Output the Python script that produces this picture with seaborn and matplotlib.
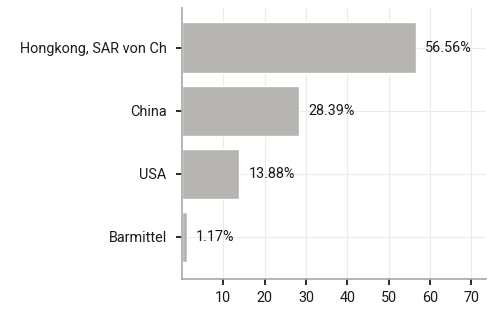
import matplotlib

matplotlib.use("Agg")
import matplotlib.pyplot as plt
import pandas as pd
import seaborn as sns

countries = ["Hongkong, SAR von Ch", "China", "USA", "Barmittel"]
shares = [56.56, 28.39, 13.88, 1.17]
x_ticks = [10, 20, 30, 40, 50, 60, 70]

BAR, INK, GRID, SPINE = "#b5b4b0", "#1a1a1a", "#ebebeb", "#a8a8a8"

sns.set_theme(style="whitegrid")
plt.rcParams.update({
    "font.family": ["Roboto", "DejaVu Sans"],
    "font.size": 10,
    "text.color": INK,
    "xtick.color": INK,
    "ytick.color": INK,
    "grid.color": GRID,
    "grid.linewidth": 0.8,
})

df = pd.DataFrame({"country": countries, "share": shares})

fig = plt.figure(figsize=(4.94, 3.11), dpi=100)
ax = fig.add_axes([182 / 494, 32 / 311, 304 / 494, 271 / 311])
sns.barplot(data=df, x="share", y="country", color=BAR, width=0.8,
            saturation=1, ax=ax)

for i, v in enumerate(shares):
    ax.text(v + 2.2, i, f"{v:.2f}%", va="center", ha="left", fontsize=10.4)

ax.set_xlim(0, 73.6)
ax.set_ylim(3.67, -0.63)
ax.set_xticks(x_ticks)
ax.set_xlabel("")
ax.set_ylabel("")
ax.grid(True, axis="both")
for side in ("top", "right"):
    ax.spines[side].set_visible(False)
for side in ("left", "bottom"):
    ax.spines[side].set_color(SPINE)
    ax.spines[side].set_linewidth(1.2)
ax.tick_params(axis="both", bottom=True, left=True, length=4, width=1.3,
               color=INK, labelsize=10.4)
ax.tick_params(axis="y", pad=7)
ax.tick_params(axis="x", pad=5)

fig.savefig("out.png", dpi=100)
